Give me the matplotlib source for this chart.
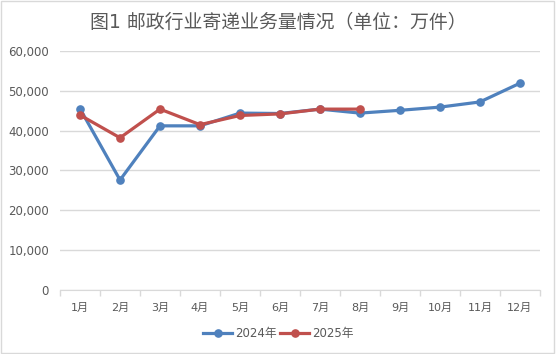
import matplotlib
matplotlib.use("Agg")
import matplotlib.pyplot as plt
from matplotlib.ticker import FuncFormatter, FixedLocator
import numpy as np

plt.rcParams['font.family'] = ['DejaVu Sans', 'Noto Sans CJK SC']

months = ['1月', '2月', '3月', '4月', '5月', '6月', '7月', '8月', '9月', '10月', '11月', '12月']
v2024 = [45500, 27600, 41200, 41200, 44400, 44300, 45400, 44400, 45100, 45900, 47200, 51900]
v2025 = [43900, 38200, 45400, 41500, 43800, 44200, 45400, 45400]
series_names = ['2024年', '2025年']
title = '图1 邮政行业寄递业务量情况（单位：万件）'

fig = plt.figure(figsize=(5.56, 3.54), dpi=100)
ax = fig.add_axes([0.108, 0.181, 0.863, 0.675])

x1 = np.arange(len(v2024))
x2 = np.arange(len(v2025))
ax.plot(x1, v2024, color='#4f81bd', lw=2.3, marker='o', ms=5.2, label=series_names[0], zorder=3)
ax.plot(x2, v2025, color='#c0504d', lw=2.3, marker='o', ms=5.2, label=series_names[1], zorder=4)

ax.set_xlim(-0.5, 11.5)
ax.set_ylim(0, 60000)
ax.set_yticks(range(0, 60001, 10000))
ax.yaxis.set_major_formatter(FuncFormatter(lambda v, p: f'{int(v):,}'))
ax.set_xticks(x1)
ax.set_xticklabels(months)
ax.xaxis.set_minor_locator(FixedLocator(np.arange(-0.5, 12, 1)))
ax.tick_params(axis='x', which='major', length=0, pad=9, labelsize=8, labelcolor='#595959')
ax.tick_params(axis='x', which='minor', length=4, color='#d9d9d9', width=1)
ax.tick_params(axis='y', length=0, pad=8, labelsize=8.5, labelcolor='#595959')
ax.grid(axis='y', color='#d9d9d9', lw=1)
ax.set_axisbelow(True)
for s in ['top', 'right', 'left']:
    ax.spines[s].set_visible(False)
ax.spines['bottom'].set_color('#d9d9d9')
ax.spines['bottom'].set_zorder(1)

fig.text(0.5, 0.937, title, ha='center', va='center', fontsize=13.6, color='#595959')
leg = fig.legend(loc='center', bbox_to_anchor=(0.5, 0.058), ncol=2, frameon=False,
                 fontsize=8.5, handlelength=2.5, columnspacing=0.3, handletextpad=0.2,
                 labelcolor='#595959')

border = plt.Rectangle((0.002, 0.003), 0.995, 0.994, transform=fig.transFigure,
                       fill=False, edgecolor='#d9d9d9', lw=1)
fig.add_artist(border)

fig.savefig('out.png', dpi=100)
